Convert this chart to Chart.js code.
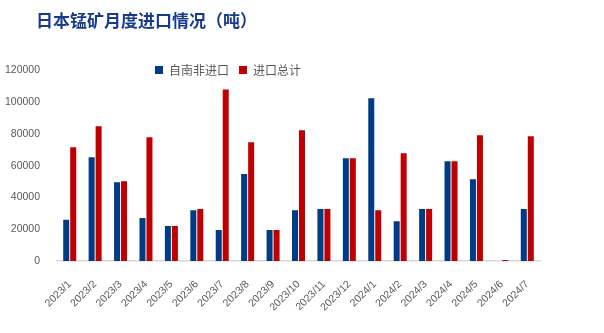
<!DOCTYPE html>
<html>
<head>
<meta charset="utf-8">
<script src="https://cdn.jsdelivr.net/npm/chart.js@4"></script>
<style>
  html, body { margin: 0; padding: 0; background: #fff; }
  #wrap { width: 604px; height: 333px; position: relative; }
</style>
</head>
<body>
<div id="wrap"><canvas id="myChart"></canvas></div>
<script>
const months = ['2023/1', '2023/2', '2023/3', '2023/4', '2023/5', '2023/6', '2023/7', '2023/8', '2023/9', '2023/10',
  '2023/11', '2023/12', '2024/1', '2024/2', '2024/3', '2024/4', '2024/5', '2024/6', '2024/7'];
const fromSouthAfrica = [26000, 65300, 49600, 27000, 22000, 32000, 19500, 54700, 19500, 32000,
  32700, 64700, 102400, 25100, 32700, 62800, 51500, 0, 32700];
const totalImports = [71600, 84800, 50200, 77900, 22000, 32700, 108000, 74800, 19500, 82300,
  32700, 64700, 32000, 67900, 32700, 62800, 79200, 600, 78500];
const seriesNames = ['自南非进口', '进口总计'];
const titleText = '日本锰矿月度进口情况（吨）';

const grey = '#595959';

// move title and legend to where the original has them
const placeBlocks = {
  id: 'placeBlocks',
  afterLayout(chart) {
    const t = chart.titleBlock;
    t.left = 36;
    const lg = chart.legend;
    lg.left = 145; lg.right = 145 + lg.width;
    lg.top = 54; lg.bottom = 54 + lg.height;
  }
};

var ctx = document.getElementById('myChart').getContext('2d');
var chart = new Chart(ctx, {
  type: 'bar',
  data: {
    labels: months,
    datasets: [{
      label: seriesNames[0],
      data: fromSouthAfrica,
      backgroundColor: '#023B85'
    }, {
      label: seriesNames[1],
      data: totalImports,
      backgroundColor: '#C00000'
    }]
  },
  options: {
    responsive: true,
    maintainAspectRatio: false,
    animation: false,
    categoryPercentage: 0.55,
    barPercentage: 0.86,
    layout: { padding: { left: 0, right: 64, top: 0, bottom: 0 } },
    plugins: {
      title: {
        display: true,
        text: titleText,
        align: 'start',
        color: '#183A8C',
        font: { family: '"Noto Sans CJK SC"', size: 17, weight: 'bold' },
        padding: { top: 10, bottom: 8 }
      },
      legend: {
        position: 'top',
        align: 'start',
        labels: {
          boxWidth: 8,
          boxHeight: 8,
          padding: 10,
          color: grey,
          font: { family: '"Noto Sans CJK SC"', size: 12 }
        }
      },
      tooltip: { enabled: false }
    },
    scales: {
      x: {
        grid: { display: false },
        border: { color: '#D9D9D9', width: 1.5 },
        ticks: {
          color: grey,
          font: { family: '"Liberation Sans"', size: 10.5 },
          maxRotation: 45,
          minRotation: 45,
          padding: 9
        },
        afterFit(scale) { scale.height = 72; }
      },
      y: {
        min: 0,
        max: 120000,
        grid: { display: false },
        border: { display: false },
        ticks: {
          stepSize: 20000,
          color: grey,
          font: { family: '"Liberation Sans"', size: 10.5 },
          padding: 9,
          callback: (v) => String(v)
        },
        afterFit(scale) { scale.width = 57; }
      }
    }
  },
  plugins: [placeBlocks]
});
</script>
</body>
</html>
